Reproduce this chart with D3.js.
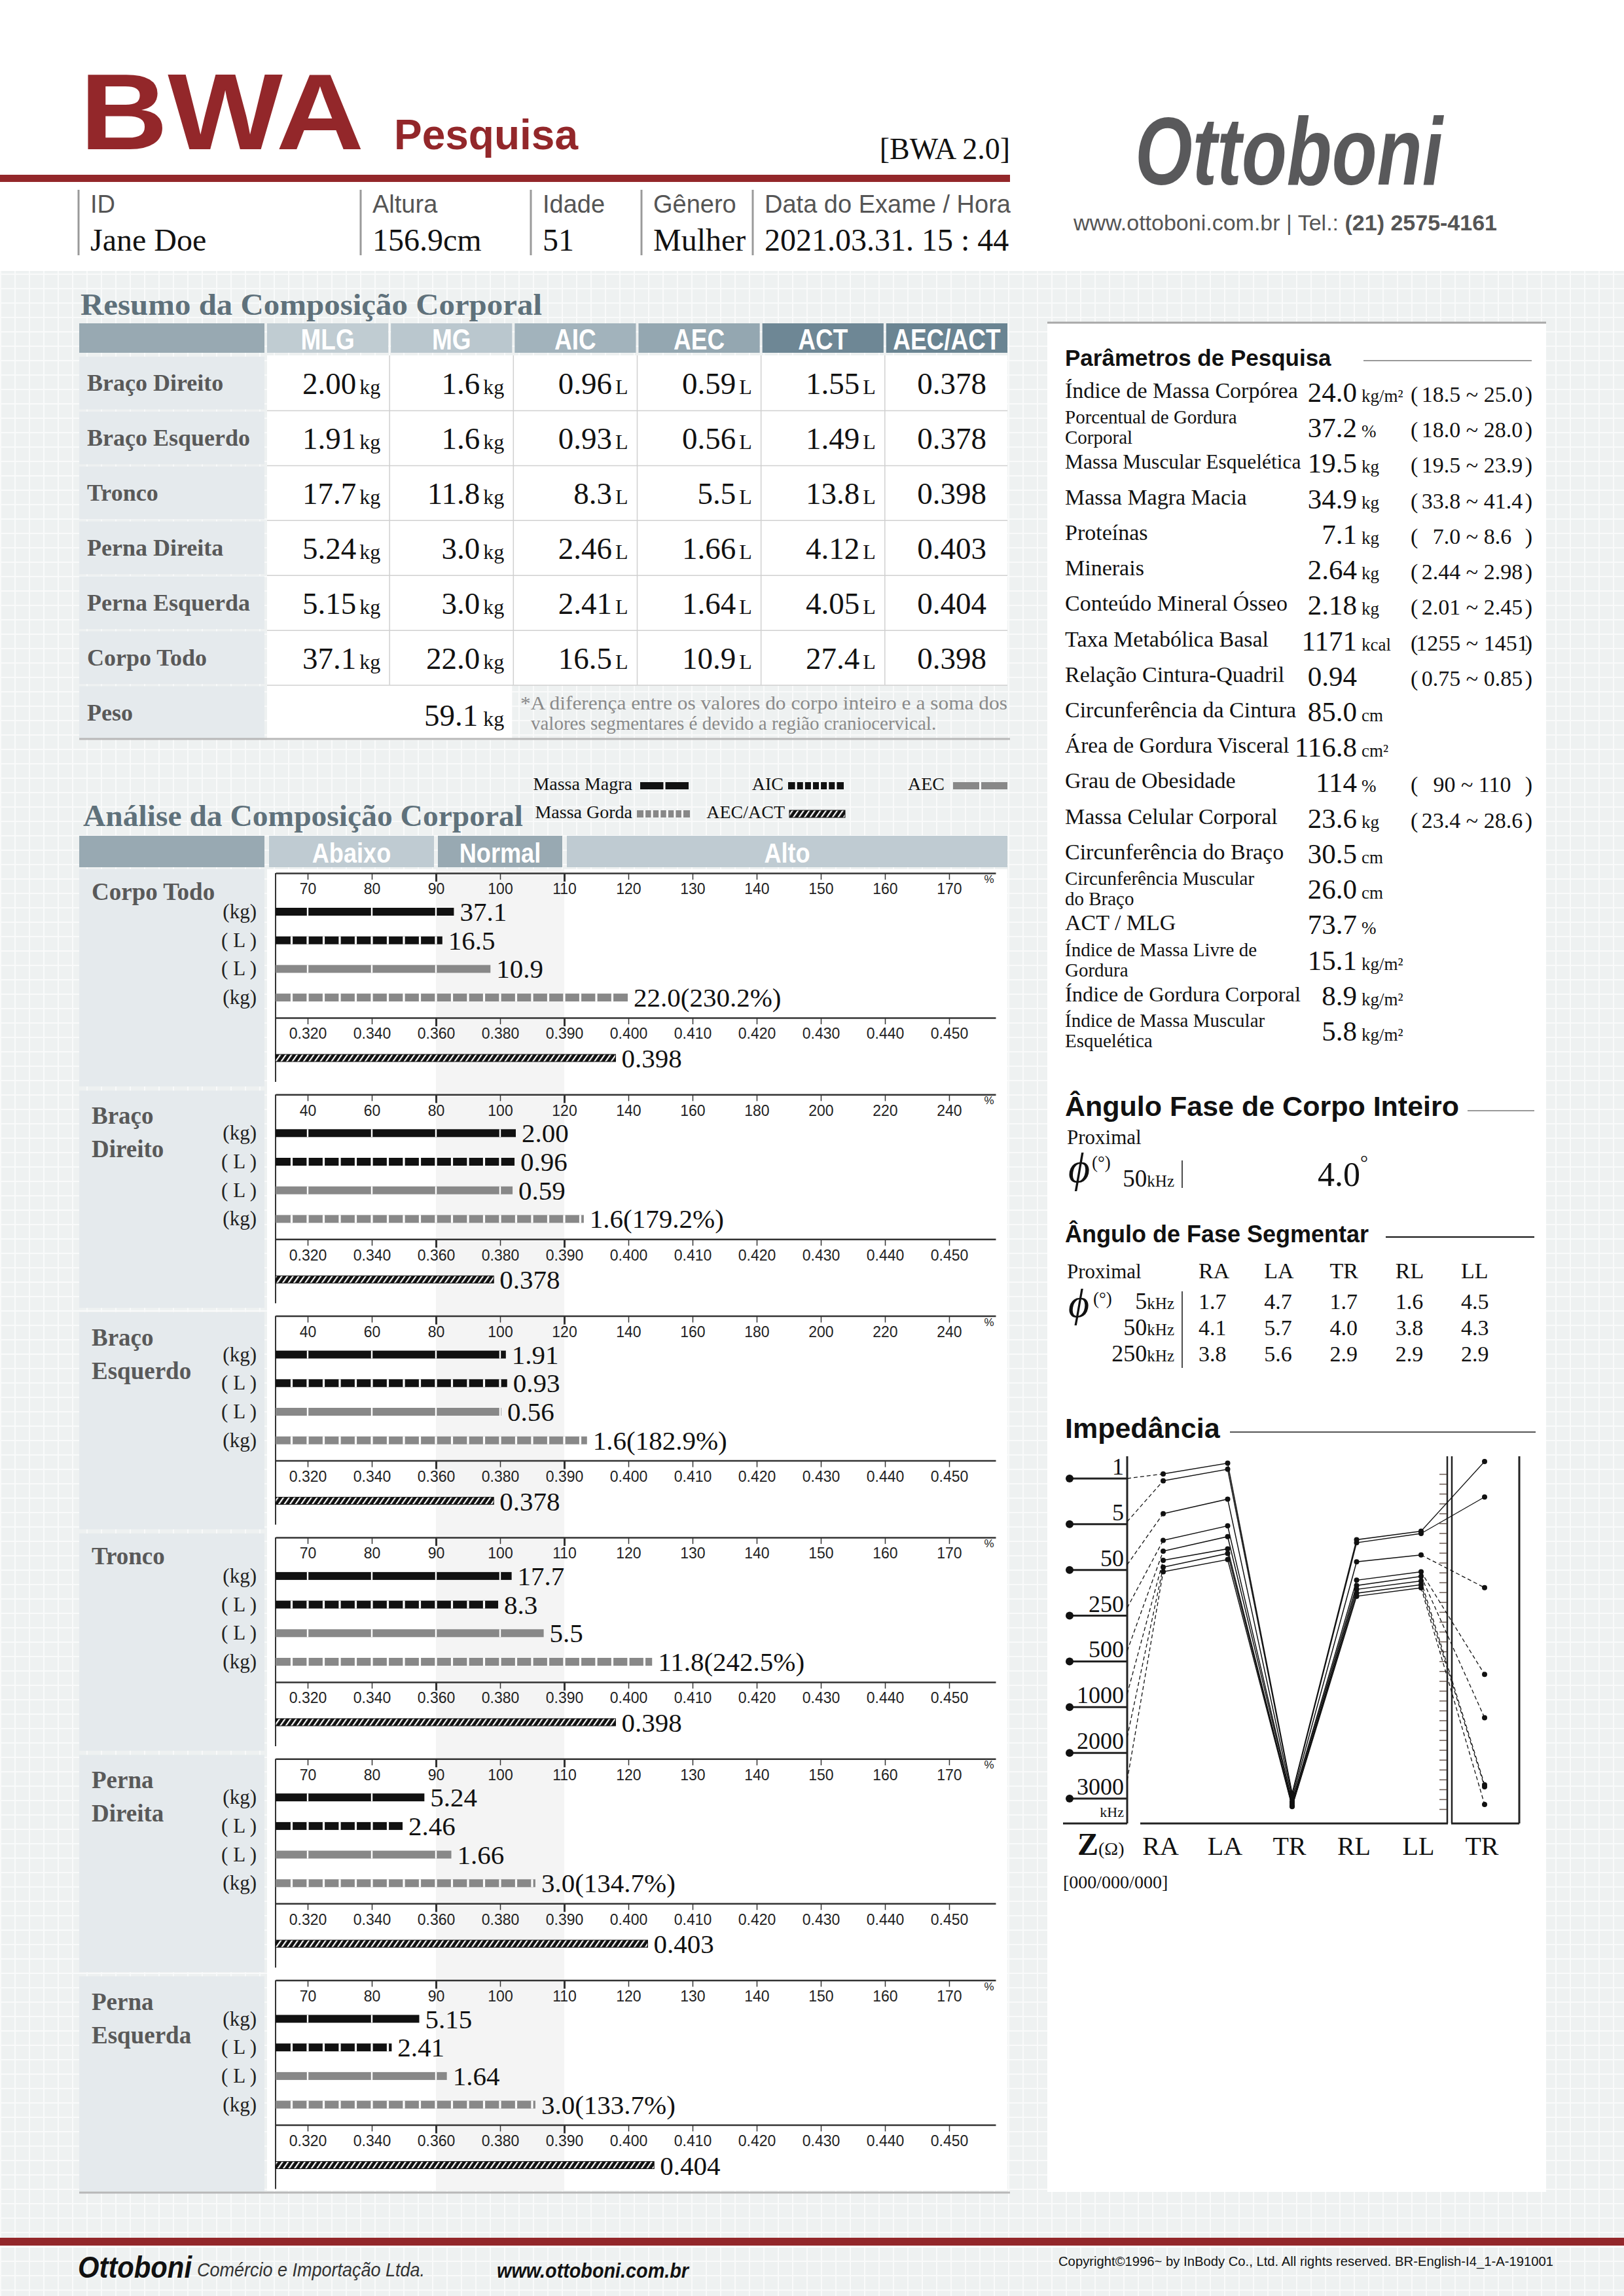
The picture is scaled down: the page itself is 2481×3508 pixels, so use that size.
<!DOCTYPE html>
<html>
<head>
<meta charset="utf-8">
<script src="https://cdn.jsdelivr.net/npm/d3@7"></script>
<style>
body { margin: 0; background: #fff; }
svg { display: block; }
</style>
</head>
<body>
<script>
// ---------- data ----------
var infoLabels = ["ID", "Altura", "Idade", "Gênero", "Data do Exame / Hora"];
var infoValues = ["Jane Doe", "156.9cm", "51", "Mulher", "2021.03.31. 15 : 44"];

var tableRows = ["Braço Direito", "Braço Esquerdo", "Tronco", "Perna Direita", "Perna Esquerda", "Corpo Todo"];
var tableCols = ["MLG", "MG", "AIC", "AEC", "ACT", "AEC/ACT"];
var colUnits = ["kg", "kg", "L", "L", "L", ""];
var mlg = ["2.00", "1.91", "17.7", "5.24", "5.15", "37.1"];
var mg = ["1.6", "1.6", "11.8", "3.0", "3.0", "22.0"];
var aic = ["0.96", "0.93", "8.3", "2.46", "2.41", "16.5"];
var aec = ["0.59", "0.56", "5.5", "1.66", "1.64", "10.9"];
var act = ["1.55", "1.49", "13.8", "4.12", "4.05", "27.4"];
var ecwRatio = ["0.378", "0.378", "0.398", "0.403", "0.404", "0.398"];
var peso = "59.1";

// analysis (order: Corpo Todo, BD, BE, Tronco, PD, PE)
var segRow = [5, 0, 1, 2, 3, 4];
var segLines = [["Corpo Todo"], ["Braço", "Direito"], ["Braço", "Esquerdo"], ["Tronco"], ["Perna", "Direita"], ["Perna", "Esquerda"]];
var segScaleType = ["A", "B", "B", "A", "A", "A"];
var mlgBar = [92.8, 104.9, 101.8, 101.8, 88.2, 87.4];
var aicBar = [91.0, 104.5, 102.2, 99.7, 84.8, 83.1];
var aecBar = [98.5, 103.9, 100.4, 106.8, 92.4, 91.7];
var mgBar = [119.9, 126.1, 127.1, 123.7, 105.5, 105.5];
var mgPct = ["230.2", "179.2", "182.9", "242.5", "134.7", "133.7"];
var ticksA = [70, 80, 90, 100, 110, 120, 130, 140, 150, 160, 170];
var ticksB = [40, 60, 80, 100, 120, 140, 160, 180, 200, 220, 240];
var ticksR = [0.320, 0.340, 0.360, 0.380, 0.390, 0.400, 0.410, 0.420, 0.430, 0.440, 0.450];
var barUnits = ["(kg)", "( L )", "( L )", "(kg)"];
var legendNames = ["Massa Magra", "AIC", "AEC", "Massa Gorda", "AEC/ACT"];

// research parameters
var paramLabels = [["Índice de Massa Corpórea"], ["Porcentual de Gordura", "Corporal"], ["Massa Muscular Esquelética"],
  ["Massa Magra Macia"], ["Proteínas"], ["Minerais"], ["Conteúdo Mineral Ósseo"], ["Taxa Metabólica Basal"],
  ["Relação Cintura-Quadril"], ["Circunferência da Cintura"], ["Área de Gordura Visceral"], ["Grau de Obesidade"],
  ["Massa Celular Corporal"], ["Circunferência do Braço"], ["Circunferência Muscular", "do Braço"], ["ACT / MLG"],
  ["Índice de Massa Livre de", "Gordura"], ["Índice de Gordura Corporal"], ["Índice de Massa Muscular", "Esquelética"]];
var paramValues = ["24.0", "37.2", "19.5", "34.9", "7.1", "2.64", "2.18", "1171", "0.94", "85.0", "116.8", "114", "23.6", "30.5", "26.0", "73.7", "15.1", "8.9", "5.8"];
var paramUnits = ["kg/m²", "%", "kg", "kg", "kg", "kg", "kg", "kcal", "", "cm", "cm²", "%", "kg", "cm", "cm", "%", "kg/m²", "kg/m²", "kg/m²"];
var paramRanges = ["18.5 ~ 25.0", "18.0 ~ 28.0", "19.5 ~ 23.9", "33.8 ~ 41.4", "7.0 ~ 8.6", "2.44 ~ 2.98", "2.01 ~ 2.45", "1255 ~ 1451", "0.75 ~ 0.85", "", "", "90 ~ 110", "23.4 ~ 28.6", "", "", "", "", "", ""];

// phase angle
var wholePhase = "4.0";
var paFreqs = ["5", "50", "250"];
var paSegs = ["RA", "LA", "TR", "RL", "LL"];
var paValues = {
  RA: ["1.7", "4.1", "3.8"],
  LA: ["4.7", "5.7", "5.6"],
  TR: ["1.7", "4.0", "2.9"],
  RL: ["1.6", "3.8", "2.9"],
  LL: ["4.5", "4.3", "2.9"]
};

// impedance (ohm)
var freqs = ["1", "5", "50", "250", "500", "1000", "2000", "3000"];
var impSegs = ["RA", "LA", "TR", "RL", "LL"];
var zRA = [457, 448, 405, 370, 356, 344, 335, 329];
var zLA = [471, 463, 424, 389, 375, 359, 353, 345];
var zTR = [39.4, 37.6, 33.0, 28.6, 26.4, 23.0, 22.9, 22.0];
var zRL = [371, 367, 342, 318, 311, 306, 301, 297];
var zLL = [382, 379, 351, 329, 323, 317, 312, 308];

// ---------- setup ----------
var W = 2481, H = 3508;
var SERIF = "'Liberation Serif','Times New Roman',serif";
var SANS = "'Liberation Sans',Arial,sans-serif";
var red = "#93272a", slate = "#5f717b", labelGray = "#595959";

var svg = d3.select("body").append("svg")
    .attr("width", W).attr("height", H)
    .attr("font-family", SERIF);

var defs = svg.append("defs");
var grid = defs.append("pattern").attr("id", "grid")
    .attr("patternUnits", "userSpaceOnUse").attr("width", 22).attr("height", 22);
grid.append("rect").attr("width", 22).attr("height", 22).attr("fill", "#eef1f1");
grid.append("path").attr("d", "M0,1H22M1,0V22").attr("stroke", "#f9fafa").attr("stroke-width", 2);

var hatch = defs.append("pattern").attr("id", "hatch")
    .attr("patternUnits", "userSpaceOnUse").attr("width", 7).attr("height", 7)
    .attr("patternTransform", "rotate(35)");
hatch.append("rect").attr("width", 7).attr("height", 7).attr("fill", "#111");
hatch.append("rect").attr("width", 2.2).attr("height", 7).attr("fill", "#fff");

function txt(g, x, y, s, size, o) {
  o = o || {};
  var t = g.append("text").attr("x", x).attr("y", y).attr("font-size", size)
      .attr("fill", o.fill || "#111").text(s);
  if (o.anchor) t.attr("text-anchor", o.anchor);
  if (o.weight) t.attr("font-weight", o.weight);
  if (o.family) t.attr("font-family", o.family);
  if (o.style) t.attr("font-style", o.style);
  if (o.len) t.attr("textLength", o.len).attr("lengthAdjust", "spacingAndGlyphs");
  return t;
}
function squeeze(t, f) {
  var n = t.node().getComputedTextLength();
  t.attr("textLength", n * f).attr("lengthAdjust", "spacingAndGlyphs");
  return t;
}
// shrink font until the text fits a width
function fitMax(t, w) {
  var fs = +t.attr("font-size");
  while (t.node().getComputedTextLength() > w && fs > 10) {
    fs -= 0.5;
    t.attr("font-size", fs);
  }
  return t;
}
function hline(g, x1, x2, y, c, w) {
  return g.append("line").attr("x1", x1).attr("x2", x2).attr("y1", y).attr("y2", y).attr("stroke", c).attr("stroke-width", w);
}
function vline(g, x, y1, y2, c, w) {
  return g.append("line").attr("x1", x).attr("x2", x).attr("y1", y1).attr("y2", y2).attr("stroke", c).attr("stroke-width", w);
}

// background
svg.append("rect").attr("width", W).attr("height", H).attr("fill", "#fff");
svg.append("rect").attr("y", 414).attr("width", W).attr("height", H - 414).attr("fill", "url(#grid)");

// ---------- header ----------
var hd = svg.append("g");
txt(hd, 122, 228, "BWA", 166, {family: SANS, weight: "bold", fill: red, len: 434});
txt(hd, 602, 228, "Pesquisa", 64, {family: SANS, weight: "bold", fill: red, len: 281});
txt(hd, 1543, 243, "[BWA 2.0]", 46, {anchor: "end"});
hd.append("rect").attr("x", 0).attr("y", 267).attr("width", 1543).attr("height", 11).attr("fill", red);

var infoSep = [120, 551, 811, 980, 1150];
infoLabels.forEach(function(l, i) {
  vline(hd, infoSep[i], 290, 390, "#9a9a9a", 3);
  txt(hd, infoSep[i] + 18, 325, l, 38, {family: SANS, fill: "#555"});
  txt(hd, infoSep[i] + 18, 383, infoValues[i], 48);
});

txt(hd, 1734, 282, "Ottoboni", 146, {family: SANS, weight: "bold", style: "italic", fill: "#59595b", len: 470});
var web = txt(hd, 1640, 352, "", 34, {family: SANS, fill: "#555"});
web.append("tspan").text("www.ottoboni.com.br  |  Tel.: ");
web.append("tspan").attr("font-weight", "bold").text("(21) 2575-4161");
fitMax(web, 656);

// ---------- summary table ----------
var tb = svg.append("g");
txt(tb, 123, 481, "Resumo da Composição Corporal", 47, {weight: "bold", fill: slate, len: 705});

var colX = d3.scaleBand().domain(tableCols).range([408, 1539]).paddingInner(0.021);
var rowY = d3.scaleBand().domain(tableRows.concat(["Peso"])).range([545, 1129]).paddingInner(0.04);
var headColors = ["#c0ccd2", "#bac7ce", "#a2b3bc", "#94a7b1", "#6e8795", "#6a8492"];

tb.append("rect").attr("x", 121).attr("y", 494).attr("width", 283).attr("height", 45).attr("fill", "#98a9b2");
tableCols.forEach(function(c, i) {
  tb.append("rect").attr("x", colX(c)).attr("y", 494).attr("width", colX.bandwidth()).attr("height", 45).attr("fill", headColors[i]);
  squeeze(txt(tb, colX(c) + colX.bandwidth() / 2, 534, c, 44, {family: SANS, weight: "bold", fill: "#fff", anchor: "middle"}), 0.84);
});

var colData = [mlg, mg, aic, aec, act, ecwRatio];
tb.append("rect").attr("x", 408).attr("y", rowY(tableRows[0]) - 2).attr("width", 1131)
    .attr("height", rowY("Peso") - rowY(tableRows[0])).attr("fill", "#fff");
tb.append("rect").attr("x", 408).attr("y", rowY("Peso") - 2).attr("width", colX("AIC") - 412)
    .attr("height", rowY.bandwidth() + 4).attr("fill", "#fff");

tableRows.concat(["Peso"]).forEach(function(r, ri) {
  var y0 = rowY(r), bh = rowY.bandwidth();
  tb.append("rect").attr("x", 121).attr("y", y0).attr("width", 283).attr("height", bh).attr("fill", "#e5eaed");
  txt(tb, 133, y0 + bh / 2 + 12, r, 36, {weight: "bold", fill: labelGray});
  if (r === "Peso") return;
  hline(tb, 408, 1539, y0 + bh + 2, "#d0d0d0", 1.5);
  tableCols.forEach(function(c, ci) {
    var t;
    if (colUnits[ci]) {
      t = txt(tb, colX(c) + colX.bandwidth() - 12, y0 + bh / 2 + 17, "", 47, {anchor: "end"});
      t.append("tspan").text(colData[ci][ri]);
      t.append("tspan").attr("font-size", 32).attr("dx", 5).text(colUnits[ci]);
    } else {
      txt(tb, colX(c) + colX.bandwidth() - 32, y0 + bh / 2 + 17, colData[ci][ri], 47, {anchor: "end"});
    }
  });
});
tableCols.slice(1).forEach(function(c) {
  vline(tb, colX(c) - 2, rowY(tableRows[0]) - 2, rowY("Peso") - 2, "#d0d0d0", 1.5);
});
var pesoT = txt(tb, colX("MG") + colX.bandwidth() - 12, rowY("Peso") + rowY.bandwidth() / 2 + 20, "", 47, {anchor: "end"});
pesoT.append("tspan").text(peso);
pesoT.append("tspan").attr("font-size", 32).attr("dx", 8).text("kg");
txt(tb, 795, 1084, "*A diferença entre os valores do corpo inteiro e a soma dos", 29, {fill: "#8a8a8a", len: 744});
txt(tb, 811, 1115, "valores segmentares é devido a região craniocervical.", 29, {fill: "#8a8a8a"});
hline(tb, 121, 1543, 1129, "#b8b8b8", 3);

// ---------- analysis ----------
var an = svg.append("g");
txt(an, 127, 1262, "Análise da Composição Corporal", 47, {weight: "bold", fill: slate, len: 672});

// legend
var legTextEnd = [966, 1197, 1443, 966, 1199];
var legY = [1207, 1207, 1207, 1250, 1250];
var legSw = [[978, 74], [1204, 85], [1456, 83], [973, 81], [1206, 85]];
var legStyle = [["#111", "big"], ["#111", "small"], ["#888", "big"], ["#888", "small"], ["url(#hatch)", "none"]];
legendNames.forEach(function(n, i) {
  txt(an, legTextEnd[i], legY[i], n, 28, {anchor: "end"});
  var sx = legSw[i][0], sw = legSw[i][1], sy = legY[i] - 12;
  an.append("rect").attr("x", sx).attr("y", sy).attr("width", sw).attr("height", 11)
      .attr("fill", legStyle[i][0]).attr("stroke", legStyle[i][1] === "none" ? "#111" : "none");
  var ls = d3.scaleLinear().domain([0, 1]).range([sx, sx + sw]);
  var gaps = legStyle[i][1] === "big" ? [0.5] : legStyle[i][1] === "small" ? d3.range(1 / 7, 0.99, 1 / 7) : [];
  an.selectAll(null).data(gaps).join("rect")
      .attr("x", function(d) { return ls(d) - 1.5; }).attr("y", sy).attr("width", 3).attr("height", 11).attr("fill", "#fff");
});

// range header
var bandHead = [["", 121, 283, "#98a9b2"], ["Abaixo", 411, 252, "#bfcbd2"], ["Normal", 669, 190, "#98a9b2"], ["Alto", 866, 673, "#bfcbd2"]];
bandHead.forEach(function(b) {
  an.append("rect").attr("x", b[1]).attr("y", 1277).attr("width", b[2]).attr("height", 48).attr("fill", b[3]);
  if (b[0]) squeeze(txt(an, b[1] + b[2] / 2, 1318, b[0], 42, {family: SANS, weight: "bold", fill: "#fff", anchor: "middle"}), 0.86);
});

var xA = d3.scaleLinear().domain([65, 177.25]).range([421, 1521]);
var xB = d3.scaleLinear().domain([30, 254.5]).range([421, 1521]);
var xR = d3.scaleLinear().domain([0.31, 0.32, 0.38, 0.45, 0.4572]).range([421, 470, 764, 1450, 1521]);

an.append("rect").attr("x", 408).attr("y", 1328).attr("width", 1131).attr("height", 2019).attr("fill", "#fff");
an.append("rect").attr("x", xA(90)).attr("y", 1328).attr("width", xA(110) - xA(90)).attr("height", 2019).attr("fill", "#f4f4f4");

function drawAxis(g, scale, ticks, fmt, y, heavy) {
  var ax = d3.axisBottom(scale).tickValues(ticks).tickFormat(fmt).tickSize(10).tickSizeOuter(0).tickPadding(6);
  var a = g.append("g").attr("transform", "translate(0," + y + ")").call(ax);
  a.select(".domain").attr("stroke", "#333").attr("stroke-width", 2.5);
  a.selectAll(".tick line").attr("stroke", "#333")
      .attr("stroke-width", function(d, i) { return heavy.indexOf(i) >= 0 ? 3 : 1.5; })
      .attr("y2", function(d, i) { return heavy.indexOf(i) >= 0 ? 13 : 10; });
  a.selectAll(".tick text").attr("font-family", SANS).attr("font-size", 23).attr("fill", "#222");
}

function drawBar(g, x, yc, val, fill, step, kind) {
  var d0 = x.domain()[0];
  g.append("rect").attr("x", x(d0)).attr("y", yc - 6).attr("width", x(val) - x(d0)).attr("height", 12).attr("fill", fill);
  var gaps = kind === "big" ? d3.range(d0 + step / 2, val - 0.3, step) : d3.range(d0 + step / 4, val - 0.3, step / 4);
  g.selectAll(null).data(gaps).join("rect")
      .attr("x", function(d) { return x(d) - (kind === "big" ? 1.2 : 1.6); }).attr("y", yc - 6)
      .attr("width", kind === "big" ? 2.4 : 3.2).attr("height", 12).attr("fill", "#fff");
}

segRow.forEach(function(r, i) {
  var top = 1334 + i * 338.3;
  var x = segScaleType[i] === "A" ? xA : xB;
  var ticks = segScaleType[i] === "A" ? ticksA : ticksB;
  var step = segScaleType[i] === "A" ? 10 : 20;
  var g = an.append("g");

  g.append("rect").attr("x", 121).attr("y", top - 6).attr("width", 283).attr("height", 332).attr("fill", "#e5eaed");
  segLines[i].forEach(function(l, li) {
    txt(g, 140, top + (segLines[i].length === 1 ? 41 : 45 + li * 51), l, 37, {weight: "bold", fill: labelGray});
  });

  vline(g, 421, top, top + 319, "#333", 2);
  drawAxis(g, x, ticks, d3.format("d"), top, [2, 4]);
  txt(g, 1511, top + 15, "%", 17, {family: SANS, anchor: "middle", fill: "#222"});

  var rows = [
    [mlgBar[i], "#111", "big", mlg[r]],
    [aicBar[i], "#111", "small", aic[r]],
    [aecBar[i], "#888", "big", aec[r]],
    [mgBar[i], "#888", "small", mg[r] + "(" + mgPct[i] + "%)"]
  ];
  rows.forEach(function(b, bi) {
    var yc = top + 59 + bi * 43.7;
    txt(g, 392, yc + 10, barUnits[bi], 31, {anchor: "end", fill: "#222"});
    drawBar(g, x, yc, b[0], b[1], step, b[2]);
    txt(g, x(b[0]) + 9, yc + 14, b[3], 41);
  });

  drawAxis(g, xR, ticksR, d3.format(".3f"), top + 221, [2, 4]);
  var rv = +ecwRatio[r];
  g.append("rect").attr("x", xR(0.31)).attr("y", top + 277).attr("width", xR(rv) - xR(0.31)).attr("height", 11)
      .attr("fill", "url(#hatch)").attr("stroke", "#111").attr("stroke-width", 1);
  txt(g, xR(rv) + 9, top + 297, ecwRatio[r], 41);
});
hline(an, 121, 1543, 3350, "#b8b8b8", 3);

// ---------- right panel ----------
var rp = svg.append("g");
rp.append("rect").attr("x", 1600).attr("y", 492).attr("width", 762).attr("height", 2857).attr("fill", "#fff");
hline(rp, 1600, 2362, 493, "#a8a8a8", 3);

txt(rp, 1627, 559, "Parâmetros de Pesquisa", 35, {family: SANS, weight: "bold"});
hline(rp, 2083, 2340, 551, "#999", 2);

var pBase = d3.scaleLinear().domain([0, 18]).range([614, 1590]);
paramLabels.forEach(function(lines, i) {
  var yb = pBase(i);
  var vt = txt(rp, 2073, yb, paramValues[i], 43, {anchor: "end"});
  var room = Math.min(362, vt.node().getBBox().x - 1627 - 6);
  if (lines.length === 1) {
    fitMax(txt(rp, 1627, yb - 6, lines[0], 34), room);
  } else {
    fitMax(txt(rp, 1627, yb - 21, lines[0], 29), room);
    fitMax(txt(rp, 1627, yb + 10, lines[1], 29), room);
  }
  if (paramUnits[i]) txt(rp, 2080, yb, paramUnits[i], 27);
  if (paramRanges[i]) {
    txt(rp, 2155, yb, "(", 34);
    txt(rp, 2249, yb, paramRanges[i], 34, {anchor: "middle"});
    txt(rp, 2341, yb, ")", 34, {anchor: "end"});
  }
});

// whole body phase angle
txt(rp, 1627, 1705, "Ângulo Fase de Corpo Inteiro", 43, {family: SANS, weight: "bold"});
hline(rp, 2242, 2344, 1697, "#999", 2);
txt(rp, 1630, 1748, "Proximal", 31);
txt(rp, 1632, 1806, "ϕ", 64, {style: "italic"});
txt(rp, 1668, 1785, "(°)", 27);
var f50 = txt(rp, 1794, 1813, "", 37, {anchor: "end"});
f50.append("tspan").text("50");
f50.append("tspan").attr("font-size", 25).text("kHz");
vline(rp, 1806, 1773, 1815, "#111", 1.5);
var wp = txt(rp, 2013, 1812, "", 52);
wp.append("tspan").text(wholePhase);
wp.append("tspan").attr("font-size", 30).attr("dy", -26).text("°");

// segmental phase angle
txt(rp, 1627, 1898, "Ângulo de Fase Segmentar", 36, {family: SANS, weight: "bold"});
hline(rp, 2117, 2344, 1890, "#111", 2);
txt(rp, 1630, 1953, "Proximal", 31);
var xP = d3.scalePoint().domain(paSegs).range([1831, 2232]);
var yP = d3.scalePoint().domain(paFreqs).range([2000, 2080]);
paSegs.forEach(function(s) {
  txt(rp, xP(s), 1953, s, 34);
  paFreqs.forEach(function(f, fi) { txt(rp, xP(s), yP(f), paValues[s][fi], 34); });
});
paFreqs.forEach(function(f) {
  var t = txt(rp, 1794, yP(f), "", 36, {anchor: "end"});
  t.append("tspan").text(f);
  t.append("tspan").attr("font-size", 25).text("kHz");
});
txt(rp, 1632, 2012, "ϕ", 62, {style: "italic"});
txt(rp, 1670, 1993, "(°)", 27);
vline(rp, 1806, 1973, 2090, "#111", 1.5);

// impedance
txt(rp, 1627, 2197, "Impedância", 43, {family: SANS, weight: "bold"});
hline(rp, 1879, 2346, 2188, "#555", 2);

var yZ = d3.scaleLinear().domain([0, 480]).range([2786, 2225]);
var yZtr = d3.scaleLinear().domain([22, 39.4]).range([2757, 2233]);
var xSeg = d3.scalePoint().domain(impSegs).range([1777, 2171]);
var xTR2 = 2268;
var yF = d3.scalePoint().domain(freqs).range([2259, 2748]);

var ig = rp.append("g");
vline(ig, 1722, 2225, 2786, "#222", 3);
hline(ig, 1624, 1722, 2786, "#222", 3);
hline(ig, 1742, 2212, 2786, "#222", 3);
hline(ig, 2217, 2321, 2786, "#222", 3);
vline(ig, 2211, 2225, 2786, "#222", 2.5);
vline(ig, 2218, 2225, 2786, "#222", 2.5);
vline(ig, 2321, 2225, 2786, "#222", 3);
ig.selectAll(null).data(d3.range(21.75, 39.1, 0.5)).join("line")
    .attr("x1", 2199).attr("x2", 2210)
    .attr("y1", function(d) { return yZtr(d); }).attr("y2", function(d) { return yZtr(d); })
    .attr("stroke", "#6b5a52").attr("stroke-width", 1.5);

freqs.forEach(function(f, i) {
  hline(ig, 1634, 1722, yF(f), "#222", 3);
  ig.append("circle").attr("cx", 1634).attr("cy", yF(f)).attr("r", 6).attr("fill", "#111");
  txt(ig, 1717, yF(f) - 6, f, 36, {anchor: "end"});
});
txt(ig, 1717, 2776, "kHz", 22, {anchor: "end"});

var segData = {RA: zRA, LA: zLA, TR: zTR, RL: zRL, LL: zLL};
var line = d3.line().x(function(d) { return d[0]; }).y(function(d) { return d[1]; });
freqs.forEach(function(f, i) {
  var pts = impSegs.map(function(s) { return [xSeg(s), yZ(segData[s][i])]; });
  ig.append("path").attr("d", line([[1722, yF(f) - i * 4], pts[0]]))
      .attr("fill", "none").attr("stroke", "#111").attr("stroke-width", 1.3).attr("stroke-dasharray", "6,4");
  ig.append("path").attr("d", line(pts)).attr("fill", "none").attr("stroke", "#111").attr("stroke-width", 1.5);
  var tr2 = [xTR2, yZtr(zTR[i])];
  ig.append("path").attr("d", line([pts[4], tr2])).attr("fill", "none").attr("stroke", "#111")
      .attr("stroke-width", 1.3).attr("stroke-dasharray", i < 2 ? null : "6,4");
  ig.selectAll(null).data(pts.concat([tr2])).join("circle")
      .attr("cx", function(d) { return d[0]; }).attr("cy", function(d) { return d[1]; })
      .attr("r", 4).attr("fill", "#111");
});

var zl = txt(ig, 1646, 2834, "", 48);
zl.append("tspan").attr("font-weight", "bold").text("Z");
zl.append("tspan").attr("font-size", 28).text("(Ω)");
impSegs.forEach(function(s) { txt(ig, xSeg(s) - 4, 2834, s, 40, {anchor: "middle"}); });
txt(ig, xTR2 - 4, 2834, "TR", 40, {anchor: "middle"});
txt(ig, 1624, 2885, "[000/000/000]", 28);

// ---------- footer ----------
var ft = svg.append("g");
ft.append("rect").attr("x", 0).attr("y", 3419).attr("width", W).attr("height", 12).attr("fill", red);
ft.append("rect").attr("x", 0).attr("y", 3431).attr("width", W).attr("height", 3).attr("fill", "#fff");
txt(ft, 119, 3480, "Ottoboni", 46, {family: SANS, weight: "bold", style: "italic", len: 174});
txt(ft, 301, 3478, "Comércio e Importação Ltda.", 30, {family: SANS, style: "italic", fill: "#333", len: 348});
txt(ft, 759, 3480, "www.ottoboni.com.br", 32, {family: SANS, weight: "bold", style: "italic", len: 293});
txt(ft, 1617, 3462, "Copyright©1996~ by InBody Co., Ltd. All rights reserved.  BR-English-I4_1-A-191001", 21, {family: SANS, len: 756});
</script>
</body>
</html>
